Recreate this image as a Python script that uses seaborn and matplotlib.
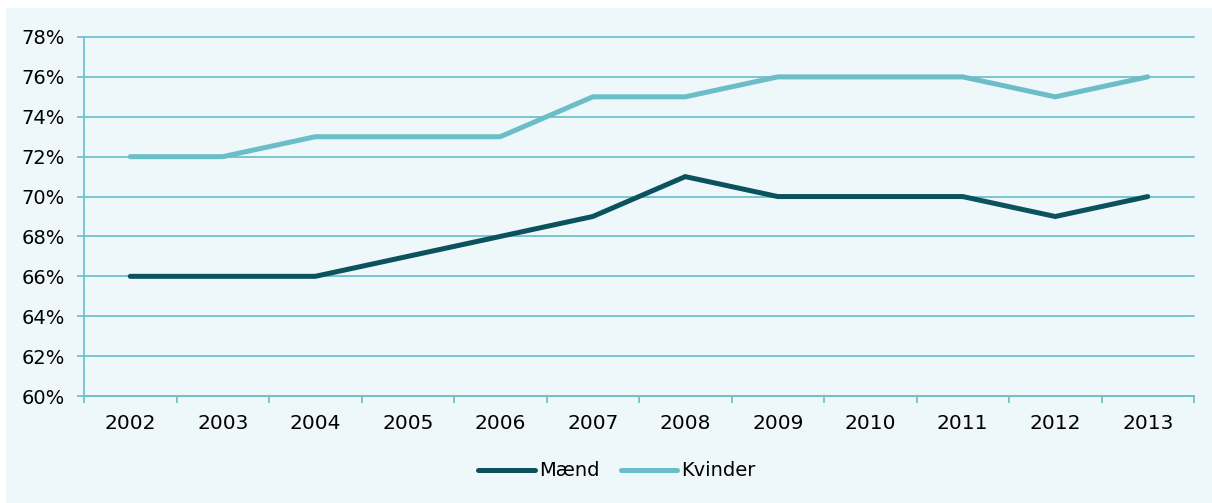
import pandas as pd
import seaborn as sns
import matplotlib.pyplot as plt
from matplotlib.patches import Rectangle
from matplotlib.lines import Line2D

years = ['2002', '2003', '2004', '2005', '2006', '2007', '2008', '2009', '2010', '2011', '2012', '2013']
maend = [66, 66, 66, 67, 68, 69, 71, 70, 70, 70, 69, 70]
kvinder = [72, 72, 73, 73, 73, 75, 75, 76, 76, 76, 75, 76]

dark = '#0b525c'
light = '#6bbdc8'
grid_col = '#72c1cb'
bg = '#eef7f9'

df = pd.DataFrame({
    'pos': list(range(len(years))) * 2,
    'andel': maend + kvinder,
    'køn': ['Mænd'] * len(years) + ['Kvinder'] * len(years),
})

sns.set_style('white')
plt.rcParams['font.family'] = ['DejaVu Sans']

fig = plt.figure(figsize=(12.12, 5.03), dpi=100, facecolor='white')
# lys baggrund som i originalen (hvid kant oppe og til venstre)
fig.patches.append(Rectangle((6 / 1212, 0), 1, (503 - 8) / 503, transform=fig.transFigure,
                             facecolor=bg, edgecolor='none', zorder=-1))
ax = fig.add_axes([84 / 1212, 107 / 503, (1194 - 84) / 1212, (396 - 37) / 503])
ax.set_facecolor(bg)

sns.lineplot(data=df, x='pos', y='andel', hue='køn', palette={'Mænd': dark, 'Kvinder': light},
             linewidth=3.6, legend=False, ax=ax, zorder=3)
for l in ax.lines:
    l.set_solid_capstyle('round')
    l.set_solid_joinstyle('miter')

ax.set_ylim(60, 78)
ax.set_yticks(range(60, 79, 2))
ax.set_yticklabels([f'{v}%' for v in range(60, 79, 2)], fontsize=14)
ax.yaxis.grid(True, color=grid_col, linewidth=1.3)
ax.set_axisbelow(True)
for t in ax.yaxis.get_major_ticks():
    t.gridline.set_clip_on(False)

ax.set_xlim(-0.5, len(years) - 0.5)
ax.set_xticks(range(len(years)))
ax.set_xticklabels(years, fontsize=14.5)
ax.set_xticks([i - 0.5 for i in range(len(years) + 1)], minor=True)
ax.tick_params(axis='x', which='major', bottom=False, length=0, pad=13)
ax.tick_params(axis='x', which='minor', bottom=True, length=5, width=1.3, color=grid_col, direction='out')
ax.tick_params(axis='y', left=True, length=5, width=1.3, color=grid_col, direction='out', pad=9)
ax.tick_params(labelcolor='black')

for s in ['top', 'right']:
    ax.spines[s].set_visible(False)
for s in ['left', 'bottom']:
    ax.spines[s].set_color(grid_col)
    ax.spines[s].set_linewidth(1.3)

ax.set_xlabel('')
ax.set_ylabel('')

handles = [Line2D([0], [0], color=dark, linewidth=3.6, solid_capstyle='round'),
           Line2D([0], [0], color=light, linewidth=3.6, solid_capstyle='round')]
fig.legend(handles, ['Mænd', 'Kvinder'], loc='center', bbox_to_anchor=(0.509, 1 - 471 / 503),
           ncol=2, frameon=False, fontsize=14, handlelength=2.9, handletextpad=0.2,
           columnspacing=1.1, labelcolor='black')

plt.savefig('out.png', dpi=100, facecolor='white')
